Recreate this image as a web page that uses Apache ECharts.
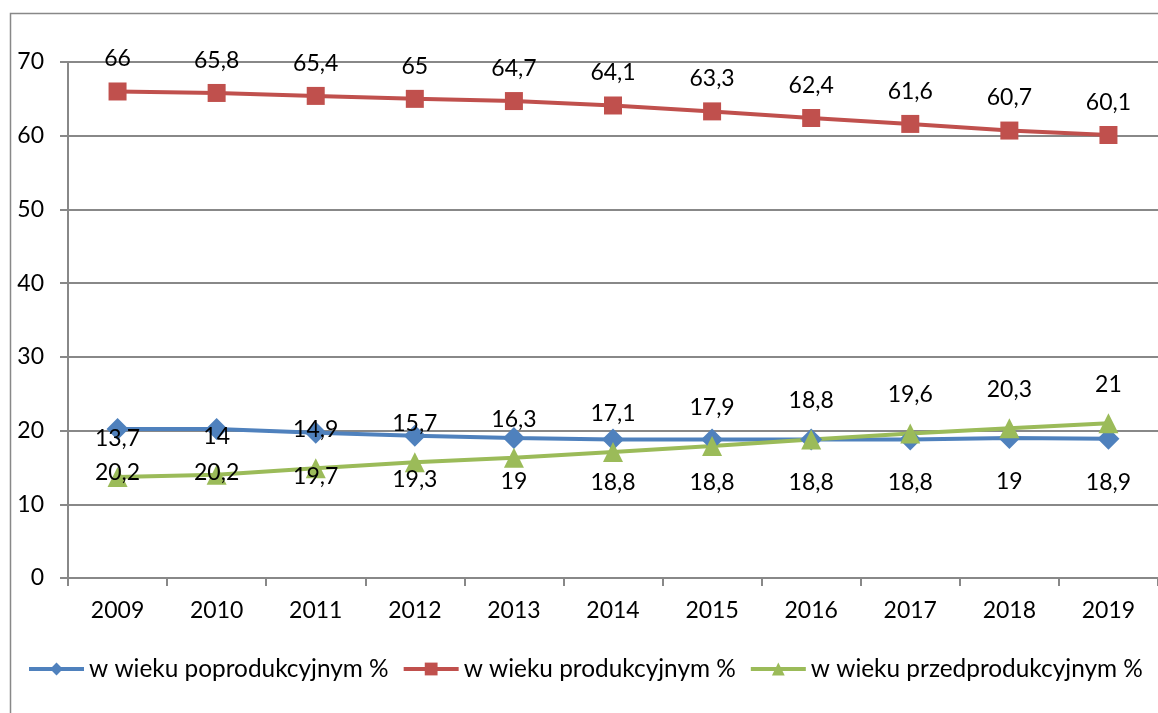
<!DOCTYPE html>
<html>
<head>
    <meta charset="utf-8">
    <title>Ludność wg ekonomicznych grup wieku</title>
    <script src="https://cdn.jsdelivr.net/npm/echarts@6/dist/echarts.min.js"></script>
    <style>
        html, body { margin: 0; padding: 0; background: #fff; }
    </style>
</head>
<body>
<div id="chart" style="width: 1158px;height:713px;"></div>

<script type="text/javascript">
    // dane
    var years = ['2009', '2010', '2011', '2012', '2013', '2014', '2015', '2016', '2017', '2018', '2019'];
    var poprodukcyjny = [20.2, 20.2, 19.7, 19.3, 19, 18.8, 18.8, 18.8, 18.8, 19, 18.9];
    var produkcyjny = [66, 65.8, 65.4, 65, 64.7, 64.1, 63.3, 62.4, 61.6, 60.7, 60.1];
    var przedprodukcyjny = [13.7, 14, 14.9, 15.7, 16.3, 17.1, 17.9, 18.8, 19.6, 20.3, 21];
    var names = ['w wieku poprodukcyjnym %', 'w wieku produkcyjnym %', 'w wieku przedprodukcyjnym %'];

    var font = 'Lato, "Open Sans", sans-serif';
    var fs = 23;

    function fmt(p) {
        return String(p.value).replace('.', ',');
    }

    var myChart = echarts.init(document.getElementById('chart'));

    var option = {
        animation: false,
        textStyle: { fontFamily: font },
        graphic: [{
            type: 'rect',
            shape: { x: 10.5, y: 13.5, width: 1300, height: 900 },
            style: { fill: 'none', stroke: '#888', lineWidth: 1.5 },
            silent: true
        }],
        legend: {
            left: 27,
            top: 657,
            width: 1300,
            padding: 0,
            itemWidth: 55,
            itemHeight: 16,
            itemGap: 13,
            lineStyle: { width: 4 },
            textStyle: { fontSize: 24.4, color: '#000', fontFamily: font },
            data: names
        },
        grid: {
            left: 68,
            top: 62,
            width: 1101,
            height: 516,
            containLabel: false
        },
        xAxis: {
            type: 'category',
            data: years,
            boundaryGap: true,
            axisLine: { lineStyle: { color: '#888', width: 2 } },
            axisTick: { show: true, length: 8, lineStyle: { color: '#888', width: 2 } },
            axisLabel: { color: '#000', fontSize: fs, margin: 21, fontFamily: font }
        },
        yAxis: {
            type: 'value',
            min: 0,
            max: 70,
            interval: 10,
            axisLine: { show: true, lineStyle: { color: '#888', width: 2 } },
            axisTick: { show: true, length: 8, lineStyle: { color: '#888', width: 2 } },
            axisLabel: { color: '#000', fontSize: fs, margin: 24, fontFamily: font },
            splitLine: { lineStyle: { color: '#888', width: 2 } }
        },
        series: [
            {
                name: names[0],
                type: 'line',
                data: poprodukcyjny,
                symbol: 'diamond',
                symbolSize: 22,
                lineStyle: { color: '#4F81BD', width: 4 },
                itemStyle: { color: '#4F81BD' },
                label: { show: true, position: 'bottom', distance: 21, fontSize: fs, color: '#000', formatter: fmt, fontFamily: font }
            },
            {
                name: names[1],
                type: 'line',
                data: produkcyjny,
                symbol: 'rect',
                symbolSize: 18,
                lineStyle: { color: '#C0504D', width: 4 },
                itemStyle: { color: '#C0504D' },
                label: { show: true, position: 'top', distance: 12, fontSize: fs, color: '#000', formatter: fmt, fontFamily: font }
            },
            {
                name: names[2],
                type: 'line',
                data: przedprodukcyjny,
                symbol: 'triangle',
                symbolSize: 20,
                lineStyle: { color: '#9BBB59', width: 4 },
                itemStyle: { color: '#9BBB59' },
                label: { show: true, position: 'top', distance: 17, fontSize: fs, color: '#000', formatter: fmt, fontFamily: font }
            }
        ]
    };

    myChart.setOption(option);
</script>
</body>
</html>
